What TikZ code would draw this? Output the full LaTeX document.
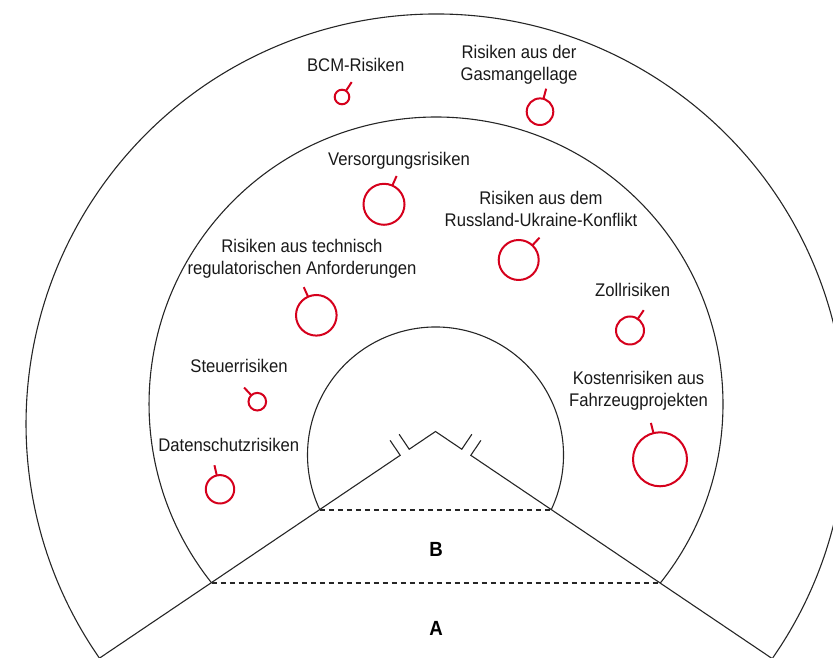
\documentclass[tikz,border=0pt]{standalone}
\usepackage{fontspec}
\setmainfont{Liberation Sans}[FakeStretch=0.91]
\definecolor{pred}{HTML}{D5001C}
\tikzset{
  ring/.style={line width=1.1pt, draw=black!85},
  wedgeline/.style={line width=1.1pt, draw=black!85},
  sepline/.style={line width=1.1pt, draw=black!85, dash pattern=on 5pt off 4pt},
  riskcircle/.style={circle, draw=pred, line width=2pt, inner sep=0pt, outer sep=0pt},
  risktick/.style={draw=pred, line width=2pt},
  lbl/.style={anchor=base, inner sep=0pt, text=black!90, font=\fontsize{18.3}{22}\selectfont},
  zone/.style={anchor=base, inner sep=0pt, text=black, font=\fontsize{20.5}{22}\selectfont\bfseries}
}
\newcommand\twol[2]{\begin{tabular}[t]{@{}c@{}}#1\\#2\end{tabular}}
% name, x, y (from top), radius, tick angle
\newcommand\riskmark[5]{%
  \node[riskcircle, minimum size={2*#4pt}] (#1) at (#2,658-#3) {};
  \draw[risktick] (#1.#5) -- ++(#5:10.5);}
\begin{document}
\begin{tikzpicture}[x=1pt,y=1pt]
\useasboundingbox (0,0) rectangle (833,658);
\clip (0,0) rectangle (833,658);
% centres of the three rings
\coordinate (O1) at (436,234);
\coordinate (O2) at (436,254);
\coordinate (O3) at (435.5,203);
% outer ring
\path (O1) ++(-34.8:410) coordinate (Or);
\draw[ring] (Or) arc[start angle=-34.8,end angle=214.8,radius=410];
% middle ring
\path (O2) ++(-38.6:287) coordinate (Ar);
\path (O2) ++(218.6:287) coordinate (Al);
\draw[ring] (Ar) arc[start angle=-38.6,end angle=218.6,radius=287];
% inner ring
\path (O3) ++(-25.45:128) coordinate (Br);
\path (O3) ++(205.45:128) coordinate (Bl);
\draw[ring] (Br) arc[start angle=-25.45,end angle=205.45,radius=128];
% dashed separators
\draw[sepline] (Al) -- (Ar);
\draw[sepline] (Bl) -- (Br);
% wedge with break marks
\coordinate (P) at (435.5,226.5);
\path (P) ++(214:42.6) coordinate (L1);
\path (P) ++(214:31.7) coordinate (L2);
\path (P) ++(214:430) coordinate (L0);
\path (L1) ++(124:18) coordinate (L1t);
\path (L2) ++(124:18) coordinate (L2t);
\path (P) ++(326:42.6) coordinate (R1);
\path (P) ++(326:31.7) coordinate (R2);
\path (P) ++(326:430) coordinate (R0);
\path (R1) ++(56:18) coordinate (R1t);
\path (R2) ++(56:18) coordinate (R2t);
\draw[wedgeline] (L0) -- (L1) -- (L1t);
\draw[wedgeline] (L2t) -- (L2) -- (P) -- (R2) -- (R2t);
\draw[wedgeline] (R0) -- (R1) -- (R1t);
% zone letters
\node[zone] (zB) at (436,658-556.7) {B};
\node[zone] (zA) at (436,658-636) {A};
% labels
\node[lbl] (t1) at (355.7,658-72) {BCM-Risiken};
\node[lbl] (t2) at (519,658-59) {\twol{Risiken aus der}{Gasmangellage}};
\node[lbl] (t3) at (399,658-166) {Versorgungsrisiken};
\node[lbl] (t4) at (541,658-205) {\twol{Risiken aus dem}{Russland-Ukraine-Konflikt}};
\node[lbl] (t5) at (302,658-253) {\twol{Risiken aus technisch}{regulatorischen Anforderungen}};
\node[lbl] (t6) at (632.7,658-297) {Zollrisiken};
\node[lbl] (t7) at (239,658-373) {Steuerrisiken};
\node[lbl] (t8) at (228.8,658-451.7) {Datenschutzrisiken};
\node[lbl] (t9) at (638.5,658-385) {\twol{Kostenrisiken aus}{Fahrzeugprojekten}};
% risk circles
\riskmark{c1}{342}{97}{7.3}{57}
\riskmark{c2}{540}{111.7}{13.3}{75}
\riskmark{c3}{384}{204.3}{20.5}{66}
\riskmark{c4}{518.7}{260}{20}{47}
\riskmark{c5}{316.3}{315.3}{20.3}{114}
\riskmark{c6}{630}{330.5}{14}{56}
\riskmark{c7}{257.3}{401.7}{8.8}{133}
\riskmark{c8}{220}{489.3}{14.2}{103}
\riskmark{c9}{660}{459.3}{27}{104}
\end{tikzpicture}
\end{document}
